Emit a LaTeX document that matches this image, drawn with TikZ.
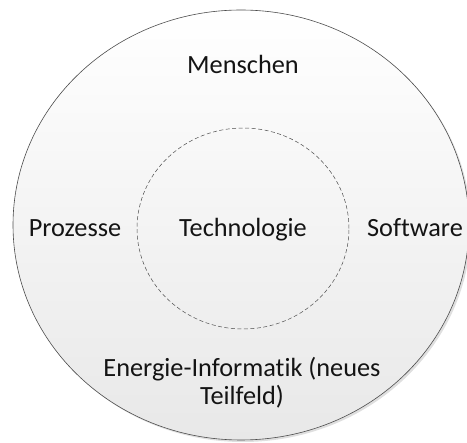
\documentclass[tikz,border=0pt]{standalone}
\usepackage{fontspec}
\setmainfont[Ligatures=NoCommon]{Carlito}
\usetikzlibrary{shadows,shapes.geometric}
\begin{document}
\begin{tikzpicture}[x=1pt,y=-1pt,
  label/.style={font=\fontsize{26.3}{28}\selectfont, text=black!92, inner sep=0pt, align=center, anchor=base},
  outer/.style={ellipse, draw=black!70, line width=0.6pt, top color=white, bottom color=black!9,
    minimum width=456pt, minimum height=430pt, inner sep=0pt,
    drop shadow={shadow xshift=2pt, shadow yshift=-2pt, opacity=0.25}},
  inner/.style={ellipse, draw=black!70, dashed, dash pattern=on 4pt off 2.5pt, line width=0.5pt,
    minimum width=212pt, minimum height=201pt, inner sep=0pt}]
\useasboundingbox (0,0) rectangle (467,443);
\node[outer] (feld) at (241,225) {};
\node[inner] (kern) at (243,228.5) {};
\node[label] (menschen) at (243,74) {Menschen};
\node[label] (technologie) at (243,237) {Technologie};
\node[label] (prozesse) at (75,237) {Prozesse};
\node[label] (software) at (415,237) {Software};
% the base anchor of a two-line node sits on its last line
\node[label] (energie) at (242,405) {Energie-Informatik (neues\\Teilfeld)};
\end{tikzpicture}
\end{document}
